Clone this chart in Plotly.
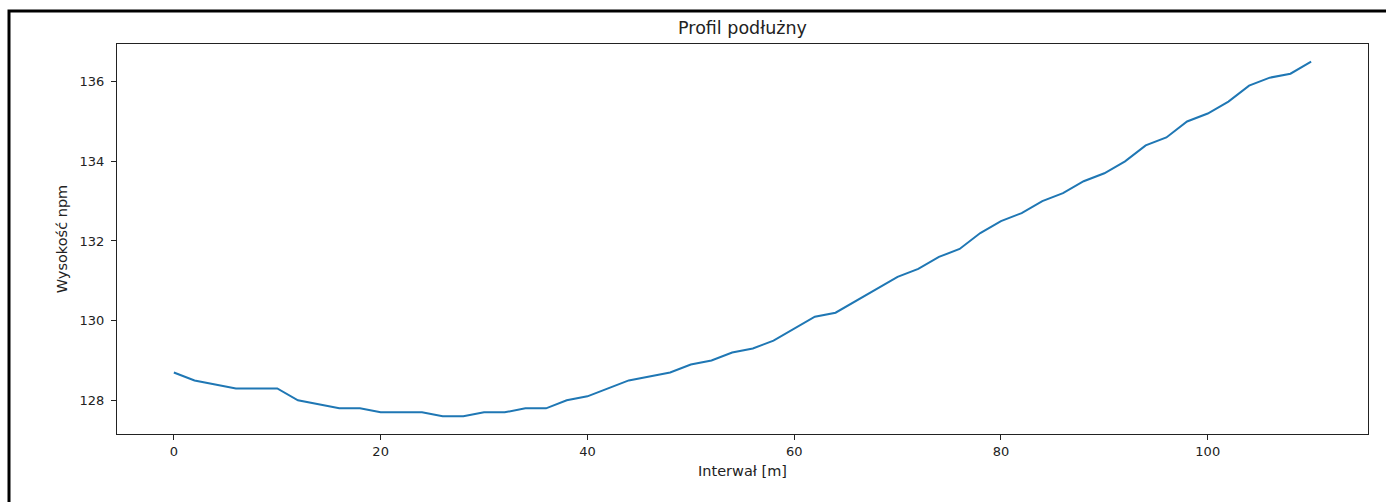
import plotly.graph_objects as go

interval_m = list(range(0, 112, 2))
elevation = [128.7, 128.5, 128.4, 128.3, 128.3, 128.3, 128.0, 127.9, 127.8, 127.8,
             127.7, 127.7, 127.7, 127.6, 127.6, 127.7, 127.7, 127.8, 127.8, 128.0,
             128.1, 128.3, 128.5, 128.6, 128.7, 128.9, 129.0, 129.2, 129.3, 129.5,
             129.8, 130.1, 130.2, 130.5, 130.8, 131.1, 131.3, 131.6, 131.8, 132.2,
             132.5, 132.7, 133.0, 133.2, 133.5, 133.7, 134.0, 134.4, 134.6, 135.0,
             135.2, 135.5, 135.9, 136.1, 136.2, 136.5]
x_ticks = [0, 20, 40, 60, 80, 100]
y_ticks = [128, 130, 132, 134, 136]

title_text = "Profil podłużny"
x_label = "Interwał [m]"
y_label = "Wysokość npm"

FONT = "DejaVu Sans"

fig = go.Figure()
fig.add_trace(go.Scatter(x=interval_m, y=elevation, mode="lines",
                         line=dict(color="#1f77b4", width=2), showlegend=False,
                         hoverinfo="x+y"))

xmin, xmax = min(interval_m), max(interval_m)
ymin, ymax = min(elevation), max(elevation)
xpad = (xmax - xmin) * 0.05
ypad = (ymax - ymin) * 0.05

axis_common = dict(showgrid=False, zeroline=False, showline=True, linecolor="#222222",
                   linewidth=1, mirror=True, ticks="outside", ticklen=5, tickwidth=1,
                   tickcolor="#222222", tickfont=dict(family=FONT, size=13, color="#222222"))

fig.update_layout(
    width=1386, height=502,
    margin=dict(l=117, r=18, t=44, b=68),
    paper_bgcolor="white", plot_bgcolor="white",
    title=dict(text=title_text, x=0.5, xref="paper", xanchor="center",
               y=1 - 28 / 502, yanchor="middle",
               font=dict(family=FONT, size=17.5, color="#222222")),
    xaxis=dict(range=[xmin - xpad, xmax + xpad], tickmode="array", tickvals=x_ticks,
               title=dict(text=x_label, standoff=8,
                          font=dict(family=FONT, size=14.5, color="#222222")),
               **axis_common),
    yaxis=dict(range=[ymin - ypad, ymax + ypad], tickmode="array", tickvals=y_ticks,
               ticklabelstandoff=4,
               title=dict(text=y_label, standoff=8,
                          font=dict(family=FONT, size=14.5, color="#222222")),
               **axis_common),
)

# outer figure frame (black border, partially off-canvas at right/bottom)
fig.add_shape(type="rect", xref="paper", yref="paper",
              x0=(9 - 117) / 1251, x1=1.2, y0=-0.5, y1=1 + (44 - 11) / 390,
              line=dict(color="black", width=3), fillcolor="rgba(0,0,0,0)", layer="below")

fig.write_html("out.html", config={"displayModeBar": False},
               post_script="document.body.style.margin='0';document.body.style.overflow='hidden';")
